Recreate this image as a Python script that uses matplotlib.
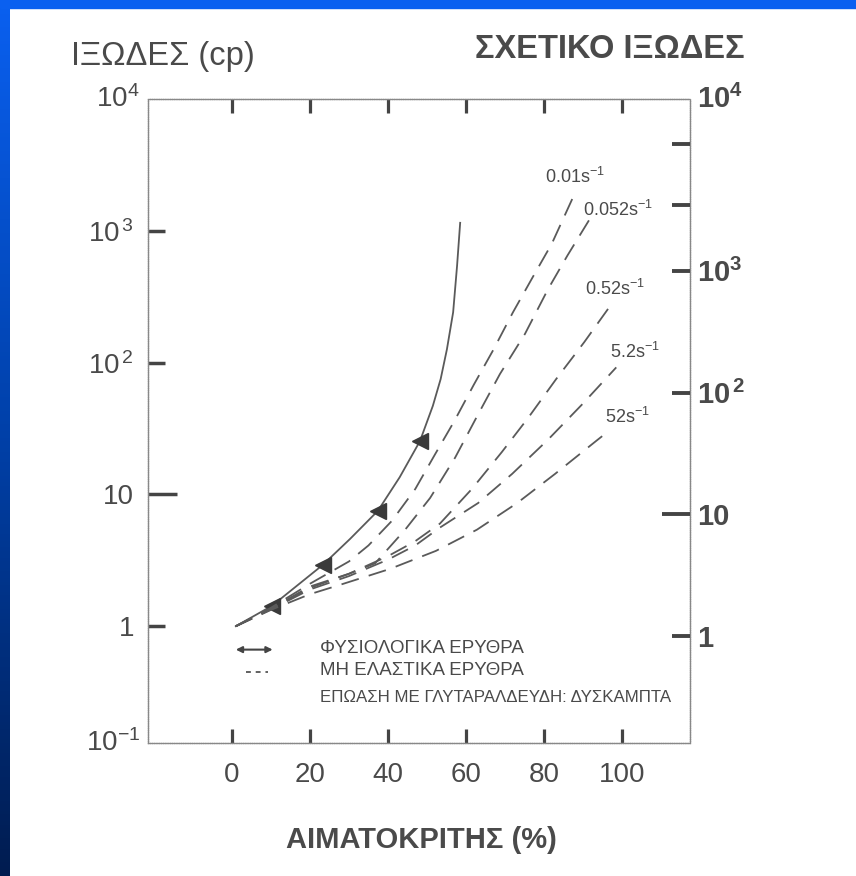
import matplotlib
matplotlib.use("Agg")
import matplotlib.pyplot as plt
import numpy as np
from matplotlib.colors import LinearSegmentedColormap
from matplotlib.patches import Rectangle
from matplotlib.ticker import FixedFormatter, FixedLocator

plt.rcParams["font.family"] = ["Liberation Sans", "DejaVu Sans"]
plt.rcParams["mathtext.fontset"] = "custom"
plt.rcParams["mathtext.rm"] = "Liberation Sans"
plt.rcParams["mathtext.it"] = "Liberation Sans:italic"
plt.rcParams["mathtext.bf"] = "Liberation Sans:bold"
plt.rcParams["mathtext.default"] = "regular"
plt.rcParams["lines.scale_dashes"] = False

INK = "#4a4a4a"
LINE = "#5a5a5a"

# ---- data ----
hct_ticks = [0, 20, 40, 60, 80, 100]

# physiological red cells (solid line with arrow heads)
normal_x = [1, 10.3, 23.3, 30.3, 37.4, 43, 48.2, 51.5, 53.5, 55.1, 56.7, 57.7, 58.5]
normal_y = [1.0, 1.43, 2.92, 4.6, 7.5, 13.5, 25.4, 47, 75, 126, 241, 540, 1150]
arrow_x = [10.3, 23.3, 37.4, 48.2]
arrow_y = [1.43, 2.92, 7.5, 25.4]

# rigid (glutaraldehyde) cells, one dashed curve per shear rate
shear_labels = ["0.01s$^{-1}$", "0.052s$^{-1}$", "0.52s$^{-1}$", "5.2s$^{-1}$", "52s$^{-1}$"]
rigid_x = [
    [1, 10, 20, 30, 35, 41, 47, 52, 57, 62, 67, 72, 77, 82, 87.4],
    [1, 10, 20, 30, 36.7, 44.4, 50.8, 57.2, 62.8, 68.7, 75.1, 81.0, 86, 91.5],
    [1, 10, 20, 30, 40, 46.9, 53.3, 61.5, 69.2, 75.9, 83.1, 90.3, 96.7],
    [1, 10, 20, 30, 40, 47, 53.3, 63.1, 71.8, 81.0, 89.7, 98.5],
    [1, 10, 20, 27.7, 40.5, 52.3, 62.8, 73.1, 82.8, 93.6, 96.4],
]
rigid_y = [
    [1.0, 1.38, 2.1, 3.1, 4.1, 6.3, 11, 20, 36, 68, 125, 240, 440, 800, 1790],
    [1.0, 1.36, 2.0, 2.5, 3.0, 5.4, 9.4, 19, 39, 82, 165, 360, 650, 1200],
    [1.0, 1.35, 1.95, 2.5, 3.4, 4.4, 6.0, 11, 21, 38, 75, 143, 263],
    [1.0, 1.34, 1.9, 2.4, 3.2, 4.1, 5.6, 8.6, 14.3, 26, 48, 92],
    [1.0, 1.33, 1.75, 2.06, 2.72, 3.73, 5.4, 8.6, 14.3, 25.8, 30],
]
label_x = [80.3, 90.0, 90.5, 97.0, 95.6]
label_y = [2570, 1450, 362, 120, 39]

# left axis (cp) and right axis (relative viscosity)
left_major = [1, 100, 1000]
left_major_lbl = ["1", "$10^{\\,2}$", "$10^{\\,3}$"]
left_minor = [10]
right_major = [1, 100, 1000, 3500, 11000]
right_major_lbl = ["1", "$10^{\\,2}$", "$10^{3}$", "", ""]
right_minor = [10]

W, H = 856, 876
fig = plt.figure(figsize=(W / 100, H / 100), dpi=100)
fig.patch.set_facecolor("white")

# blue frame of the slide
band = fig.add_axes([0, 0, 10 / W, 1])
cmap = LinearSegmentedColormap.from_list("band", ["#0a60f0", "#0040a8", "#001c50"])
band.imshow(np.linspace(0, 1, 256).reshape(-1, 1), aspect="auto", cmap=cmap)
band.axis("off")
fig.patches.append(Rectangle((0, 1 - 8 / H), 1, 8 / H, transform=fig.transFigure,
                             color="#0a60f0", zorder=5))

ax = fig.add_axes([148 / W, (H - 743) / H, 542 / W, 644 / H])
ax.set_yscale("log")
ax.set_xlim(-21.5, 117.4)
ax.set_ylim(0.13, 1e4)

ax.plot(normal_x, normal_y, color=LINE, lw=1.3)
ax.plot(arrow_x, arrow_y, ls="none", marker="<", ms=12, color="#3a3a3a")
for xs, ys in zip(rigid_x, rigid_y):
    ax.plot(xs, ys, color=LINE, lw=1.3, dashes=(13, 7.5))
for lx, ly, txt in zip(label_x, label_y, shear_labels):
    ax.text(lx, ly, txt, fontsize=13, color=INK, ha="left", va="center")

for s in ax.spines.values():
    s.set_color("#888888")
    s.set_linewidth(1.0)
    s.set_linestyle((0, (1, 0.6)))

# x ticks
ax.set_xticks(hct_ticks)
ax.set_xticklabels([str(v) for v in hct_ticks])
ax.tick_params(axis="x", which="major", direction="in", top=True, length=10,
               width=2.3, color="#444444", labelsize=20, labelcolor=INK, pad=14)

# left y
ax.yaxis.set_major_locator(FixedLocator(left_major))
ax.yaxis.set_major_formatter(FixedFormatter(left_major_lbl))
ax.yaxis.set_minor_locator(FixedLocator(left_minor))
ax.yaxis.set_minor_formatter(FixedFormatter(["10"]))
ax.tick_params(axis="y", which="major", direction="in", length=12, width=2.5,
               color="#444444", labelsize=20, labelcolor=INK, pad=10)
ax.tick_params(axis="y", which="minor", direction="in", length=21, width=2.5,
               color="#444444", labelsize=20, labelcolor=INK, pad=10)
# axis-end labels on the left
ax.text(-0.015, 1.0, "$10^{4}$", transform=ax.transAxes, fontsize=20, color=INK,
        ha="right", va="center")
ax.text(-0.015, 0.0, "$10^{-1}$", transform=ax.transAxes, fontsize=20, color=INK,
        ha="right", va="center")

# right y
ax2 = ax.twinx()
ax2.set_yscale("log")
ax2.set_ylim(0.132, 2.58e4)
ax2.yaxis.set_major_locator(FixedLocator(right_major))
ax2.yaxis.set_major_formatter(FixedFormatter(right_major_lbl))
ax2.yaxis.set_minor_locator(FixedLocator(right_minor))
ax2.yaxis.set_minor_formatter(FixedFormatter(["10"]))
for which, ln in (("major", 13), ("minor", 20)):
    ax2.tick_params(axis="y", which=which, direction="in", length=ln, width=2.8,
                    color="#444444", labelsize=21, labelcolor=INK, pad=5)
for lab in ax2.get_yticklabels(which="both"):
    lab.set_fontweight("bold")
for s in ax2.spines.values():
    s.set_visible(False)
ax.text(1.012, 1.0, "$10^{4}$", transform=ax.transAxes, fontsize=21, color=INK,
        ha="left", va="center", fontweight="bold")

# legend (drawn by hand, as in the original)
ax.annotate("", xy=(0.230, 0.145), xytext=(0.162, 0.145), xycoords="axes fraction",
            arrowprops=dict(arrowstyle="<|-|>", color="#444444", lw=1.5,
                            mutation_scale=9, shrinkA=0, shrinkB=0))
ax.plot([0.180, 0.222], [0.111, 0.111], transform=ax.transAxes, color="#555555",
        lw=1.3, dashes=(3.5, 3.5))
ax.text(0.317, 0.147, "ΦΥΣΙΟΛΟΓΙΚΑ ΕΡΥΘΡΑ", transform=ax.transAxes, fontsize=13.5,
        color=INK, va="center")
ax.text(0.317, 0.113, "ΜΗ ΕΛΑΣΤΙΚΑ ΕΡΥΘΡΑ", transform=ax.transAxes, fontsize=13.5,
        color=INK, va="center")
ax.text(0.317, 0.071, "ΕΠΩΑΣΗ ΜΕ ΓΛΥΤΑΡΑΛΔΕΥΔΗ: ΔΥΣΚΑΜΠΤΑ", transform=ax.transAxes,
        fontsize=12.2, color=INK, va="center")

# axis titles
fig.text(71 / W, 1 - 57 / H, "ΙΞΩΔΕΣ (cp)", fontsize=23.5, color=INK, ha="left", va="center")
fig.text(745 / W, 1 - 50 / H, "ΣΧΕΤΙΚΟ ΙΞΩΔΕΣ", fontsize=23.5, color=INK,
         ha="right", va="center", fontweight="bold")
fig.text(421 / W, 1 - 840 / H, "ΑΙΜΑΤΟΚΡΙΤΗΣ (%)", fontsize=21, color=INK,
         ha="center", va="center", fontweight="bold")

fig.savefig("out.png", dpi=100, facecolor="white")
